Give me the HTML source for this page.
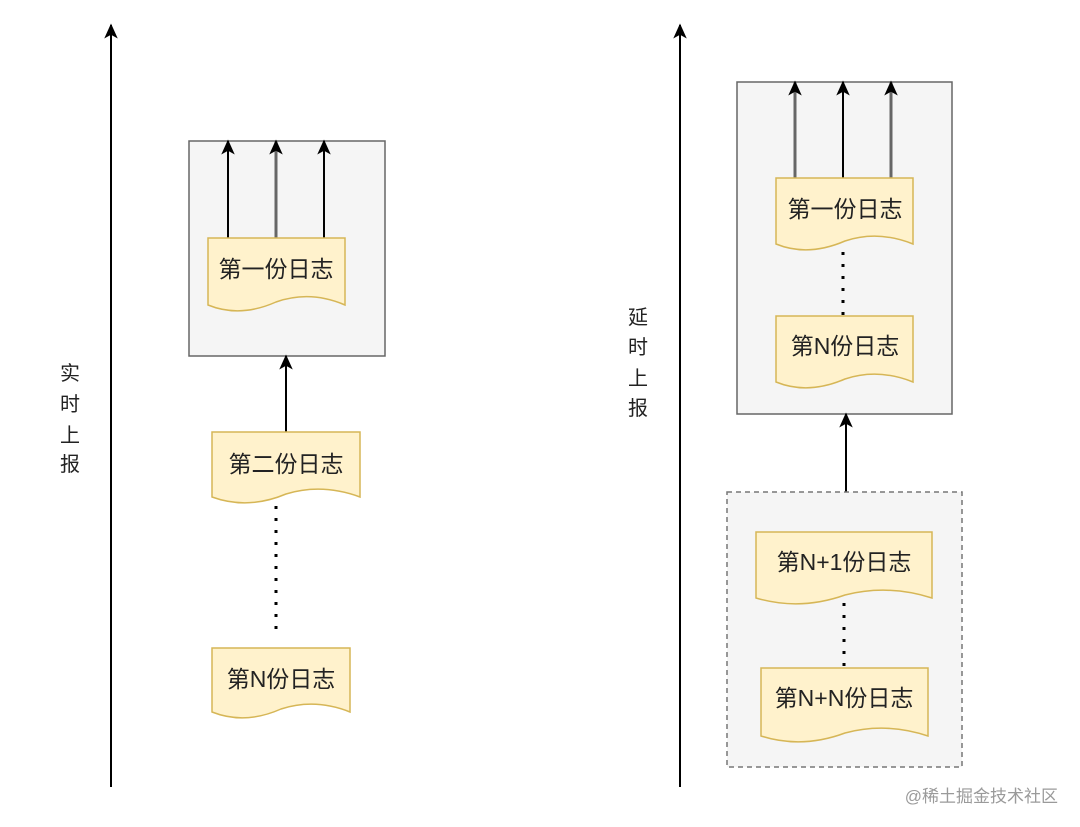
<!DOCTYPE html>
<html><head><meta charset="utf-8"><style>
html,body{margin:0;padding:0;background:#fff;}
svg{display:block;}
text{font-family:"Liberation Sans","Noto Sans CJK SC",sans-serif;font-size:23px;fill:#222;}
.v{font-size:20px;}
</style></head><body>
<svg width="1080" height="827" viewBox="0 0 1080 827" xmlns="http://www.w3.org/2000/svg">
<defs>
<marker id="a" viewBox="0 0 10 10" refX="9" refY="5" markerWidth="15" markerHeight="15" orient="auto" markerUnits="userSpaceOnUse">
<path d="M0,0.5 L10,5 L0,9.5 L2.5,5 Z" fill="#000"/></marker>
</defs>
<line x1="111" y1="787" x2="111" y2="25" stroke="#000" stroke-width="2" marker-end="url(#a)"/>
<line x1="680" y1="787" x2="680" y2="25" stroke="#000" stroke-width="2" marker-end="url(#a)"/>
<g text-anchor="middle">
<text class="v" x="70" y="380">实</text><text class="v" x="70" y="411">时</text><text class="v" x="70" y="442">上</text><text class="v" x="70" y="471">报</text>
<text class="v" x="638" y="324">延</text><text class="v" x="638" y="354">时</text><text class="v" x="638" y="385">上</text><text class="v" x="638" y="415">报</text>
</g>
<rect x="189" y="141" width="196" height="215" fill="#f5f5f5" stroke="#666" stroke-width="1.5"/>
<line x1="228" y1="238" x2="228" y2="141" stroke="#000" stroke-width="2" marker-end="url(#a)"/>
<line x1="276" y1="238" x2="276" y2="141" stroke="#666" stroke-width="3" marker-end="url(#a)"/>
<line x1="324" y1="238" x2="324" y2="141" stroke="#000" stroke-width="2" marker-end="url(#a)"/>
<path d="M208,238 H345 V305 Q310,290 276,302 Q240,318 208,305 Z" fill="#fff2cc" stroke="#d6b656" stroke-width="1.5"/>
<text x="276" y="277" text-anchor="middle">第一份日志</text>
<line x1="286" y1="432" x2="286" y2="356" stroke="#000" stroke-width="2" marker-end="url(#a)"/>
<path d="M212,432 H360 V497 Q322,483 286,494 Q248,510 212,497 Z" fill="#fff2cc" stroke="#d6b656" stroke-width="1.5"/>
<text x="286" y="472" text-anchor="middle">第二份日志</text>
<line x1="276" y1="506" x2="276" y2="630" stroke="#000" stroke-width="3" stroke-dasharray="3,9"/>
<path d="M212,648 H350 V712 Q315,698 281,709 Q245,725 212,712 Z" fill="#fff2cc" stroke="#d6b656" stroke-width="1.5"/>
<text x="281" y="687" text-anchor="middle">第N份日志</text>
<rect x="737" y="82" width="215" height="332" fill="#f5f5f5" stroke="#666" stroke-width="1.5"/>
<line x1="795" y1="180" x2="795" y2="82" stroke="#666" stroke-width="3" marker-end="url(#a)"/>
<line x1="843" y1="180" x2="843" y2="82" stroke="#000" stroke-width="2" marker-end="url(#a)"/>
<line x1="891" y1="180" x2="891" y2="82" stroke="#666" stroke-width="3" marker-end="url(#a)"/>
<path d="M776,178 H913 V244 Q878,230 845,241 Q808,257 776,244 Z" fill="#fff2cc" stroke="#d6b656" stroke-width="1.5"/>
<text x="845" y="217" text-anchor="middle">第一份日志</text>
<line x1="843" y1="252" x2="843" y2="315" stroke="#000" stroke-width="3" stroke-dasharray="3,9"/>
<path d="M776,316 H913 V382 Q878,368 845,379 Q808,395 776,382 Z" fill="#fff2cc" stroke="#d6b656" stroke-width="1.5"/>
<text x="845" y="354" text-anchor="middle">第N份日志</text>
<line x1="846" y1="492" x2="846" y2="414" stroke="#000" stroke-width="2" marker-end="url(#a)"/>
<rect x="727" y="492" width="235" height="275" fill="#f5f5f5" stroke="#777" stroke-width="1.5" stroke-dasharray="5,4"/>
<path d="M756,532 H932 V598 Q888,584 845,595 Q800,611 756,598 Z" fill="#fff2cc" stroke="#d6b656" stroke-width="1.5"/>
<text x="844" y="570" text-anchor="middle">第N+1份日志</text>
<line x1="844" y1="603" x2="844" y2="667" stroke="#000" stroke-width="3" stroke-dasharray="3,9"/>
<path d="M761,668 H928 V736 Q886,722 845,733 Q802,749 761,736 Z" fill="#fff2cc" stroke="#d6b656" stroke-width="1.5"/>
<text x="844" y="706" text-anchor="middle">第N+N份日志</text>
<text x="1058" y="802" text-anchor="end" style="font-size:17px;fill:#9a9a9a">@稀土掘金技术社区</text>
</svg>
</body></html>
